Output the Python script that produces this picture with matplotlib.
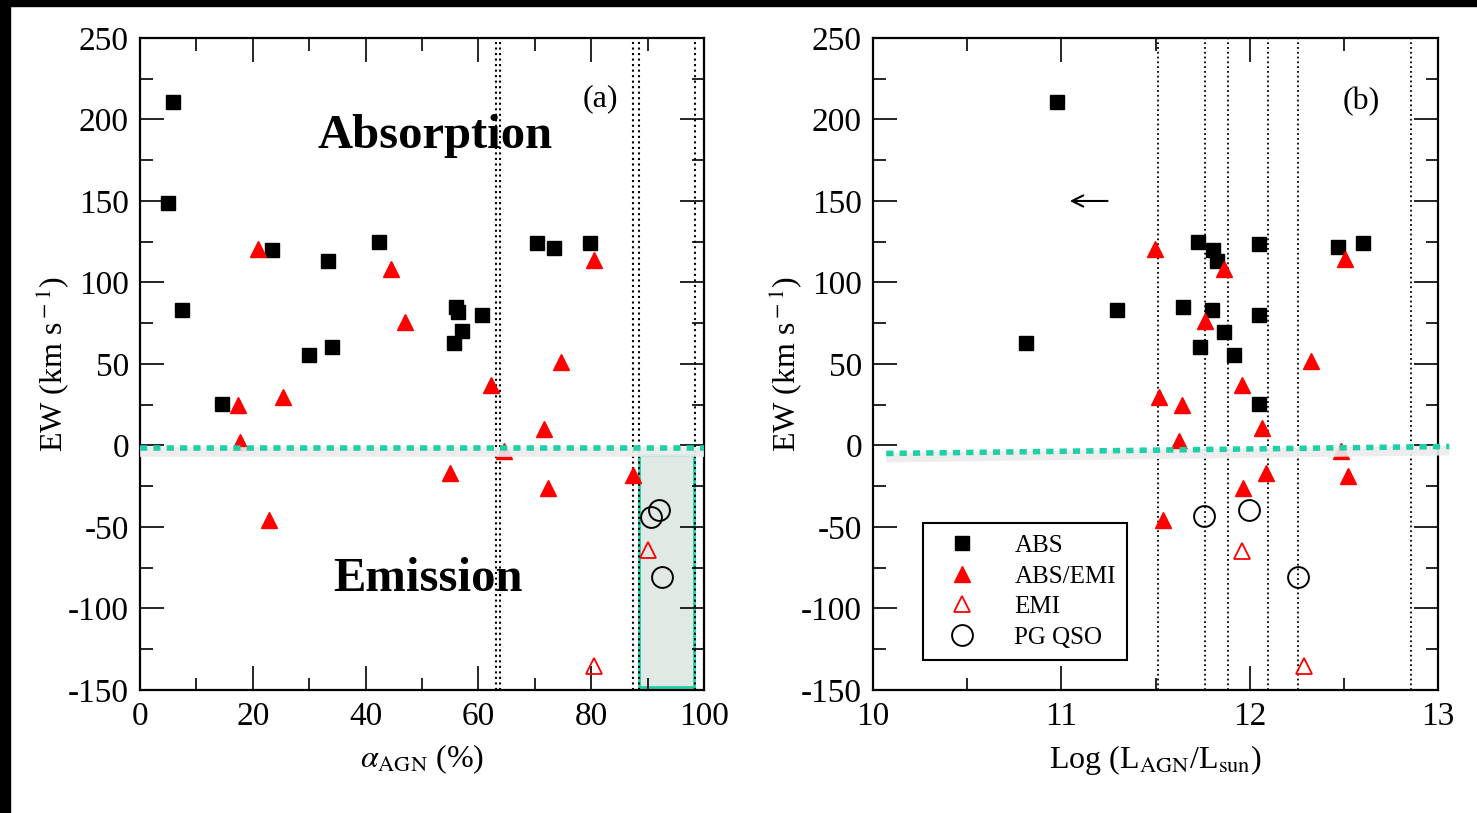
import numpy as np
import matplotlib
matplotlib.use('Agg')
import matplotlib.pyplot as plt
from matplotlib.patches import Rectangle
from matplotlib.lines import Line2D

plt.rcParams['font.family'] = 'Liberation Serif'
plt.rcParams['mathtext.fontset'] = 'stix'
plt.rcParams['axes.unicode_minus'] = False

TEAL = '#1fcfa5'

# panel (a): alpha_AGN (%) vs EW
a_abs_x = [5.8, 5.0, 23.4, 33.4, 42.3, 70.4, 73.4, 79.8, 7.4, 56.0, 56.4, 60.6, 57.0, 55.7, 30.0, 34.1, 14.5]
a_abs_y = [211, 148.6, 119.8, 113, 125, 124, 121.4, 124.3, 83, 85, 82, 80.2, 70, 63, 55.7, 60.4, 25.7]
a_mix_x = [21.0, 44.5, 80.5, 47.0, 74.7, 62.3, 17.4, 25.4, 17.7, 71.6, 64.6, 54.9, 72.4, 87.4, 22.8]
a_mix_y = [120.4, 108, 113.7, 76, 51.2, 37, 24.7, 29.6, 2.2, 10.2, -3.5, -16.7, -26.3, -18.2, -45.7]
a_emi_x = [90.0, 80.4]
a_emi_y = [-64.3, -135]
a_pg_x = [92.0, 90.6, 92.5]
a_pg_y = [-39.8, -43.9, -80.6]
a_vlines = [63.1, 63.9, 87.4, 88.5, 98.4]

# panel (b): Log(L_AGN/L_sun) vs EW
b_abs_x = [10.978, 11.728, 11.804, 11.828, 12.048, 12.468, 12.604, 11.298, 11.648, 11.798, 12.048,
           11.864, 10.81, 11.734, 11.918, 12.048]
b_abs_y = [210.8, 125.1, 120, 113.3, 123.9, 121.8, 124.3, 83, 84.7, 83, 80.2, 69.5, 62.9, 60.2, 55.3, 25.5]
b_mix_x = [11.498, 11.864, 12.508, 11.764, 12.328, 11.958, 11.518, 11.638, 12.064, 11.624, 12.484,
           12.084, 12.524, 11.964, 11.538]
b_mix_y = [120.4, 108.2, 114.3, 76.3, 51.6, 37.3, 29.8, 25.1, 10.8, 2.7, -3.5, -16.7, -18.8, -25.9, -45.9]
b_emi_x = [11.958, 12.288]
b_emi_y = [-64.7, -135]
b_pg_x = [11.758, 11.998, 12.254]
b_pg_y = [-43.3, -39.8, -80.6]
b_vlines = [11.514, 11.764, 11.884, 12.098, 12.254, 12.858]

fig = plt.figure(figsize=(14.77, 8.13), dpi=100)
ax1 = fig.add_axes([0.0948, 0.1513, 0.3819, 0.802])
ax2 = fig.add_axes([0.5911, 0.1513, 0.3825, 0.802])

# black borders of the scanned figure
fig.add_artist(Rectangle((0, 1 - 6 / 813), 1, 6 / 813, transform=fig.transFigure, color='black'))
fig.add_artist(Rectangle((0, 0), 10 / 1477, 1, transform=fig.transFigure, color='black'))


def style(ax, xmin, xmax, xmaj, xmin_step):
    ax.set_xlim(xmin, xmax)
    ax.set_ylim(-150, 250)
    ax.set_xticks(np.arange(xmin, xmax + 1e-9, xmaj))
    ax.set_xticks(np.arange(xmin, xmax + 1e-9, xmin_step), minor=True)
    ax.set_yticks(np.arange(-150, 251, 50))
    ax.set_yticks(np.arange(-150, 251, 25), minor=True)
    ax.tick_params(which='both', direction='in', top=True, right=True, width=1.2, labelsize=24)
    ax.tick_params(which='major', length=17, pad=8)
    ax.tick_params(which='minor', length=9)
    for s in ax.spines.values():
        s.set_linewidth(1.6)
    ax.set_ylabel('EW (km s$^{\\rm -1}$)', fontsize=23, labelpad=-2)


def points(ax, ax_, ay, mx, my, ex, ey, px, py):
    ax.plot(ax_, ay, 's', color='black', ms=10, zorder=3)
    ax.plot(mx, my, '^', color='red', ms=12, zorder=3)
    ax.plot(ex, ey, '^', mfc='none', mec='red', mew=1.3, ms=12, zorder=3)
    ax.plot(px, py, 'o', mfc='none', mec='black', mew=1.4, ms=15, zorder=3)


def zero_line(ax, xs, ys):
    ax.plot(xs, [y - 2.5 for y in ys], color='#ececec', lw=7, alpha=0.9, zorder=4,
            solid_capstyle='butt', clip_on=False)
    ax.plot(xs, ys, color=TEAL, lw=4, ls=(0, (1.3, 1.1)), zorder=5,
            dash_capstyle='butt', clip_on=False)


# ---- panel (a)
style(ax1, 0, 100, 20, 10)
ax1.add_patch(Rectangle((88.5, -148), 9.8, 142.1, facecolor='#e1e9e5', edgecolor=TEAL, lw=2, zorder=1))
for v in a_vlines:
    ax1.axvline(v, color='black', ls=':', lw=1.5, zorder=2)
points(ax1, a_abs_x, a_abs_y, a_mix_x, a_mix_y, a_emi_x, a_emi_y, a_pg_x, a_pg_y)
zero_line(ax1, [0, 100], [-1.5, -1.5])
ax1.text(52.3, 190, 'Absorption', fontsize=35, fontweight='bold', ha='center', va='center')
ax1.text(51, -82, 'Emission', fontsize=35, fontweight='bold', ha='center', va='center')
ax1.text(81.7, 213, '(a)', fontsize=23, ha='center', va='center')
ax1.set_xlabel('$\\alpha_{\\rm AGN}$ (%)', fontsize=23, labelpad=8)

# ---- panel (b)
style(ax2, 10, 13, 1, 0.5)
for v in b_vlines:
    ax2.axvline(v, color='black', ls=':', lw=1.3, zorder=2)
points(ax2, b_abs_x, b_abs_y, b_mix_x, b_mix_y, b_emi_x, b_emi_y, b_pg_x, b_pg_y)
zero_line(ax2, [10.07, 13.06], [-4.9, -0.6])
ax2.annotate('', xy=(11.03, 150), xytext=(11.26, 150),
             arrowprops=dict(arrowstyle='->', lw=1.5, color='black', mutation_scale=20))
ax2.text(12.59, 211, '(b)', fontsize=23, ha='center', va='center')
ax2.set_xlabel('Log (L$_{\\rm AGN}$/L$_{\\rm sun}$)', fontsize=23, labelpad=8)

handles = [
    Line2D([], [], ls='none', marker='s', color='black', ms=10),
    Line2D([], [], ls='none', marker='^', color='red', ms=12),
    Line2D([], [], ls='none', marker='^', mfc='none', mec='red', mew=1.3, ms=12),
    Line2D([], [], ls='none', marker='o', mfc='none', mec='black', mew=1.4, ms=15),
]
leg = ax2.legend(handles, ['ABS', 'ABS/EMI', 'EMI', 'PG QSO'], loc='lower left',
                 bbox_to_anchor=(0.0885, 0.046), fontsize=18, frameon=True, fancybox=False,
                 edgecolor='black', framealpha=1, borderpad=0.45, labelspacing=0.32,
                 handlelength=2.2, handletextpad=1.0, borderaxespad=0)
leg.get_frame().set_linewidth(1.5)

fig.savefig('out.png', dpi=100)
